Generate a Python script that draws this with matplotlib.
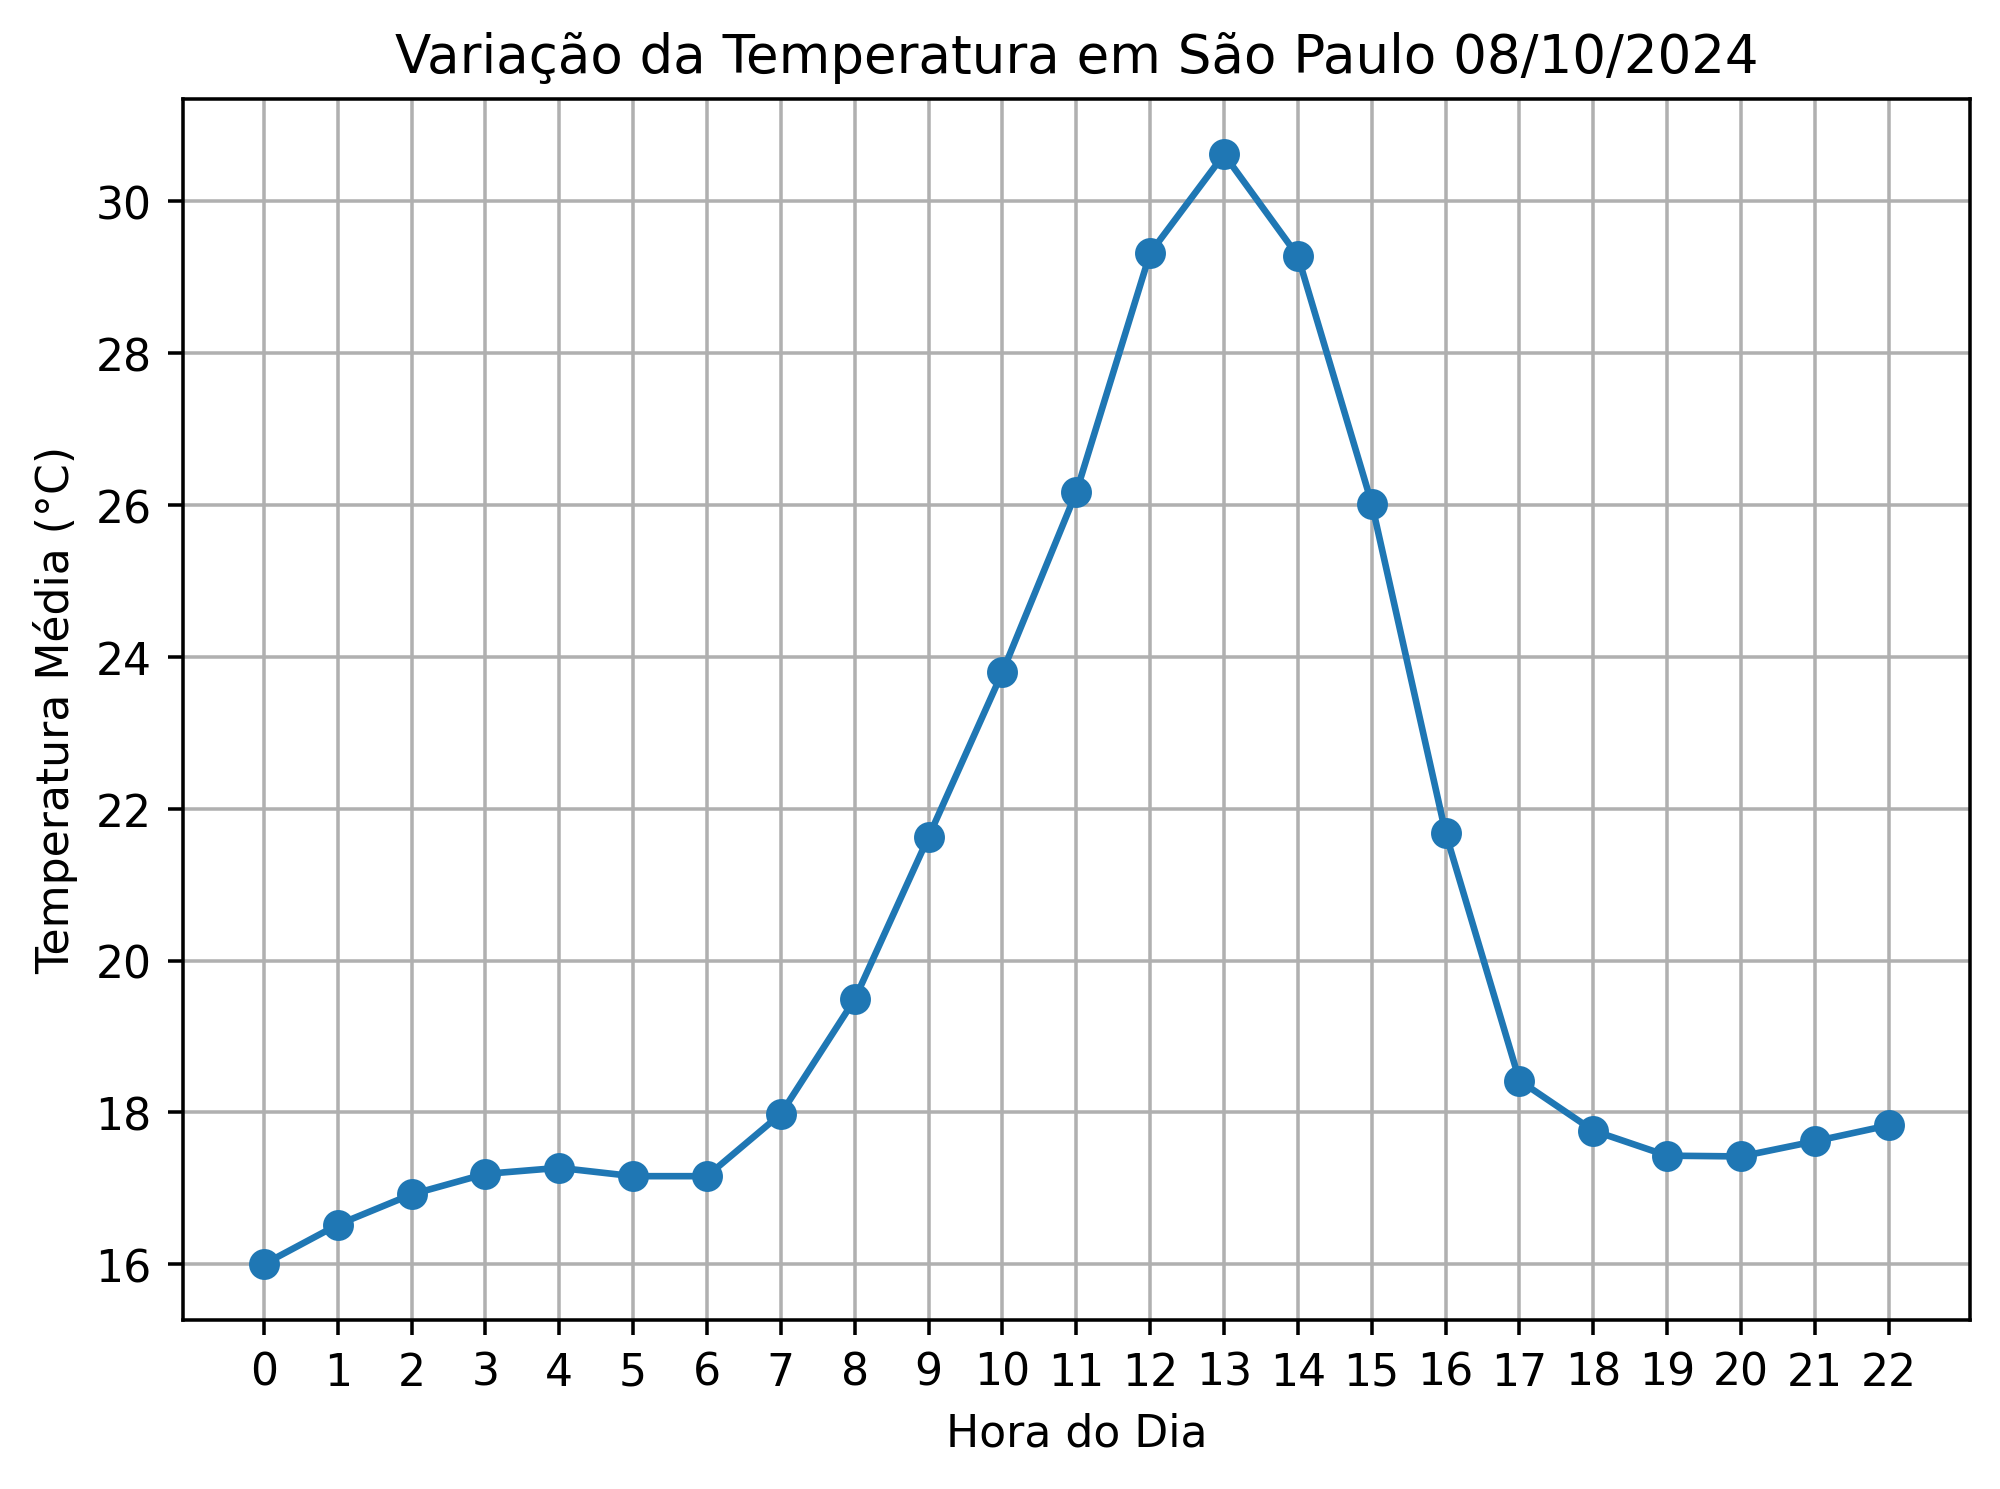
import matplotlib
matplotlib.use("Agg")
import matplotlib.pyplot as plt

horas = list(range(23))
temperaturas = [16.0, 16.52, 16.92, 17.19, 17.27, 17.16, 17.16, 17.98, 19.49, 21.63,
                23.8, 26.17, 29.32, 30.62, 29.28, 26.02, 21.68, 18.42, 17.76, 17.43,
                17.42, 17.62, 17.83]

dpi = 318
fig = plt.figure(figsize=(2000 / dpi, 1490 / dpi), dpi=dpi)
plt.plot(horas, temperaturas, marker='o')
plt.title("Variação da Temperatura em São Paulo 08/10/2024")
plt.xlabel("Hora do Dia")
plt.ylabel("Temperatura Média (°C)")
plt.xticks(horas)
plt.grid(True)
plt.subplots_adjust(left=0.0913, right=0.985, top=0.933, bottom=0.1136)
plt.savefig("out.png")
